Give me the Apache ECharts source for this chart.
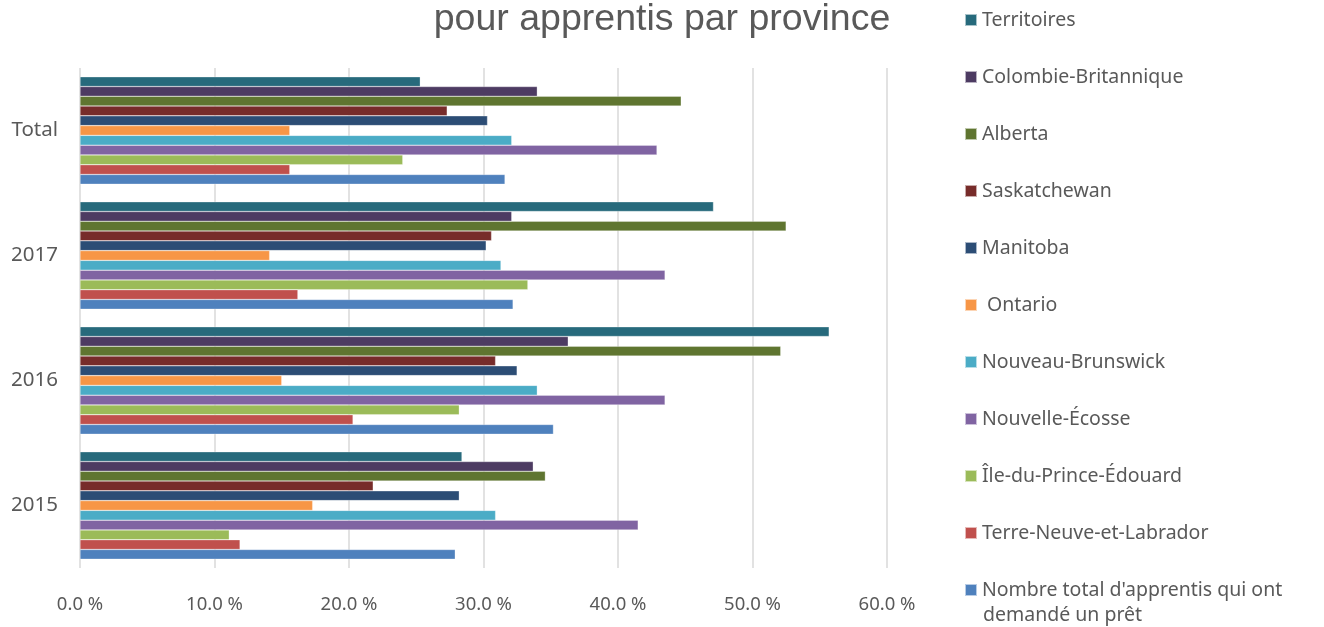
<!DOCTYPE html>
<html>
<head>
<meta charset="utf-8">
<script src="https://cdn.jsdelivr.net/npm/echarts@6/dist/echarts.min.js"></script>
<style>html,body{margin:0;padding:0;background:#fff}#c{width:1324px;height:627px}</style>
</head>
<body>
<div id="c"></div>
<script>
const categories = ['2015', '2016', '2017', 'Total'];

// listed top to bottom as in the legend (and within each bar group)
const seriesNames = [
  'Territoires',
  'Colombie-Britannique',
  'Alberta',
  'Saskatchewan',
  'Manitoba',
  ' Ontario',
  'Nouveau-Brunswick',
  'Nouvelle-Écosse',
  'Île-du-Prince-Édouard',
  'Terre-Neuve-et-Labrador',
  "Nombre total d'apprentis qui ont demandé un prêt"
];
const seriesColors = ['#276a7c', '#4d3b62', '#5f7530', '#772c2a', '#2c4d75', '#f79646', '#4bacc6', '#8064a2', '#9bbb59', '#c0504d', '#4f81bd'];

// values per category: 2015, 2016, 2017, Total (percent)
const territoires = [28.4, 55.7, 47.1, 25.3];
const colombieBritannique = [33.7, 36.3, 32.1, 34.0];
const alberta = [34.6, 52.1, 52.5, 44.7];
const saskatchewan = [21.8, 30.9, 30.6, 27.3];
const manitoba = [28.2, 32.5, 30.2, 30.3];
const ontario = [17.3, 15.0, 14.1, 15.6];
const nouveauBrunswick = [30.9, 34.0, 31.3, 32.1];
const nouvelleEcosse = [41.5, 43.5, 43.5, 42.9];
const ilePE = [11.1, 28.2, 33.3, 24.0];
const terreNeuve = [11.9, 20.3, 16.2, 15.6];
const totalApprentis = [27.9, 35.2, 32.2, 31.6];

const seriesValues = [territoires, colombieBritannique, alberta, saskatchewan, manitoba, ontario, nouveauBrunswick, nouvelleEcosse, ilePE, terreNeuve, totalApprentis];

const chart = echarts.init(document.getElementById('c'));
const font = 'Noto Sans';

chart.setOption({
  animation: false,
  title: {
    text: 'pour apprentis par province',
    left: 657, textAlign: 'center', top: -4,
    textStyle: { fontFamily: 'Liberation Sans', fontSize: 37.5, fontWeight: 'normal', color: '#595959' }
  },
  legend: {
    orient: 'vertical', left: 964, top: 10, padding: 0,
    itemWidth: 12, itemHeight: 12, itemGap: 37, itemTextGap: 7,
    icon: 'rect',
    data: seriesNames,
    formatter: function (name) {
      if (name.startsWith('Nombre')) return "Nombre total d'apprentis qui ont";
      return name;
    },
    textStyle: { fontFamily: font, fontSize: 19.5, color: '#595959', lineHeight: 20 }
  },
  graphic: [{
    type: 'text', left: 983, top: 605,
    style: { text: 'demandé un prêt', fontFamily: font, fontSize: 19.5, fill: '#595959' }
  }],
  grid: { left: 80, right: 437, top: 68, bottom: 59, containLabel: false },
  xAxis: {
    type: 'value', min: 0, max: 60, interval: 10,
    axisLine: { show: false }, axisTick: { show: false },
    splitLine: { lineStyle: { color: '#d9d9d9', width: 1.5 } },
    axisLabel: {
      margin: 27, color: '#595959', fontFamily: font, fontSize: 18.5,
      formatter: v => v.toFixed(1) + ' %'
    }
  },
  yAxis: {
    type: 'category', data: categories,
    axisLine: { show: false }, axisTick: { show: false },
    axisLabel: { margin: 22, color: '#595959', fontFamily: font, fontSize: 20.5 }
  },
  series: seriesNames.map((n, i) => ({
    name: n, type: 'bar', data: seriesValues[i],
    barGap: '0%', barCategoryGap: '14%',
    itemStyle: { color: seriesColors[i], borderColor: 'rgba(255,255,255,0.6)', borderWidth: 0.5 }
  }))
});
</script>
</body>
</html>
